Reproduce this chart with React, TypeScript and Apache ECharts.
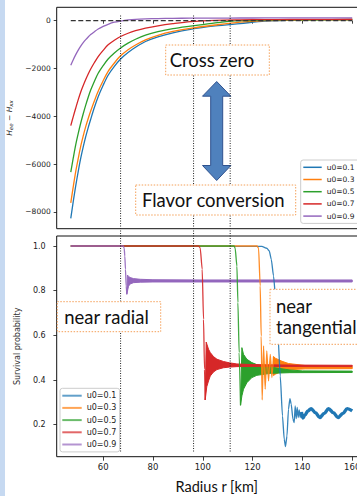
import React, { useEffect, useRef } from 'react';
import * as echarts from 'echarts';

const SERIES_NAMES = ['u0=0.1', 'u0=0.3', 'u0=0.5', 'u0=0.7', 'u0=0.9'];
const SERIES_COLORS = ['#1f77b4', '#ff7f0e', '#2ca02c', '#d62728', '#9467bd'];

const X_TICKS = [60, 80, 100, 120, 140, 160];
const TOP_Y_TICKS = [-8000, -6000, -4000, -2000, 0];
const BOTTOM_Y_TICKS = [0.2, 0.4, 0.6, 0.8, 1.0];

// Top panel: H_ee - H_xx versus radius
const R_TOP = [47, 48, 49, 50, 51, 52, 53, 54, 55, 56.5, 58, 60, 62, 64.5, 67, 70, 73, 77, 82, 88, 95, 105, 115, 125, 135, 145, 160];
const H_U01 = [-8270, -7560, -6900, -6300, -5750, -5280, -4850, -4470, -4120, -3620, -3180, -2700, -2280, -1910, -1600, -1330, -1110, -870, -675, -505, -360, -220, -120, -20, 15, 30, 40];
const H_U03 = [-7615, -6940, -6300, -5760, -5250, -4820, -4430, -4090, -3780, -3350, -2950, -2510, -2120, -1770, -1470, -1215, -1015, -800, -610, -450, -320, -180, -60, 5, 20, 30, 40];
const H_U05 = [-6330, -5740, -5180, -4710, -4280, -3890, -3530, -3200, -2900, -2530, -2200, -1880, -1600, -1350, -1140, -940, -775, -605, -460, -335, -230, -90, 0, 20, 30, 40, 50];
const H_U07 = [-4390, -4010, -3650, -3300, -2980, -2710, -2460, -2230, -2020, -1750, -1500, -1240, -1010, -820, -660, -525, -420, -312, -215, -125, -40, 15, 35, 45, 50, 55, 60];
const H_U09 = [-1860, -1630, -1420, -1230, -1060, -915, -790, -680, -580, -460, -350, -240, -150, -65, -15, 30, 58, 76, 88, 97, 105, 110, 112, 114, 115, 115, 115];
const ZERO_LINE = [[47, 0], [160, 0]];

// Bottom panel: survival probability, [r, P] pairs
const P_U09_LINE = [[47, 1.0], [68.1, 1.0], [68.45, 0.99], [68.7, 0.955], [68.96, 0.896], [69.24, 0.821], [69.5, 0.784]];
const P_U09_UP = [[69.5, 0.784], [69.75, 0.87], [70.2, 0.864], [70.8, 0.859], [72.2, 0.854], [74.9, 0.851], [80, 0.849], [100, 0.848], [160, 0.848]];
const P_U09_LO = [[69.5, 0.784], [69.9, 0.805], [70.2, 0.82], [70.8, 0.83], [72.2, 0.836], [74.9, 0.838], [80, 0.839], [100, 0.839], [160, 0.839]];

const P_U07_LINE = [[47, 1.0], [98.3, 1.0], [98.96, 0.992], [99.76, 0.896], [100.3, 0.672], [100.7, 0.448], [100.96, 0.311]];
const P_U07_UP = [[100.96, 0.311], [101.37, 0.57], [102.3, 0.538], [103, 0.523], [104.3, 0.505], [105.7, 0.493], [108.3, 0.483], [110.7, 0.477], [113.7, 0.472], [120, 0.469], [135, 0.467], [160, 0.466]];
const P_U07_LO = [[100.96, 0.311], [101.6, 0.37], [102.3, 0.396], [103, 0.418], [104.3, 0.436], [105.7, 0.447], [108.3, 0.455], [110.7, 0.458], [113.7, 0.46], [120, 0.461], [160, 0.461]];

const P_U05_LINE = [[47, 1.0], [112.6, 1.0], [113.0, 0.99], [113.7, 0.91], [114.1, 0.747], [114.6, 0.523], [115.15, 0.287]];
const P_U05_UP = [[115.15, 0.287], [115.7, 0.545], [116.35, 0.515], [117.7, 0.493], [119.7, 0.478], [121.7, 0.469], [127, 0.458], [135, 0.445], [140, 0.441], [160, 0.44]];
const P_U05_LO = [[115.15, 0.287], [115.7, 0.329], [116.35, 0.359], [117.7, 0.388], [119.7, 0.411], [121.7, 0.421], [127, 0.43], [135, 0.433], [160, 0.434]];

const P_U03_LINE = [[47, 1.0], [121.8, 1.0], [122.4, 0.99], [123.05, 0.821], [123.45, 0.597], [123.85, 0.311], [124.4, 0.553], [125.06, 0.359], [125.7, 0.53], [126.4, 0.396], [127.1, 0.515], [127.75, 0.411], [128.4, 0.505]];
const P_U03_UP = [[128.4, 0.505], [129.1, 0.498], [131.8, 0.484], [134.4, 0.474], [141.1, 0.465], [150, 0.461], [160, 0.46]];
const P_U03_LO = [[128.4, 0.42], [129.1, 0.426], [131.8, 0.44], [134.4, 0.446], [141.1, 0.45], [160, 0.451]];

const P_U01_LINE = [[47, 1.0], [123.7, 0.998], [125.7, 0.99], [126.7, 0.978], [127.5, 0.94], [128.4, 0.866], [129.4, 0.746], [130.2, 0.597], [131.1, 0.418], [132.0, 0.239], [132.7, 0.135], [133.2, 0.102], [133.8, 0.15], [134.4, 0.269], [135.0, 0.317], [135.5, 0.292], [136.2, 0.225], [136.7, 0.209], [137.1, 0.284], [137.5, 0.227], [137.9, 0.277], [138.3, 0.232], [138.7, 0.266], [139.1, 0.232], [139.6, 0.257]];
const P_U01_WAVE = [[139.6, 0.257], [140.2, 0.23], [141.1, 0.245], [142.2, 0.262], [143.5, 0.272], [145.2, 0.254], [147, 0.232], [148.7, 0.25], [150.5, 0.272], [152.4, 0.254], [154.3, 0.232], [156.2, 0.25], [158, 0.272], [160, 0.262]];

// Annotation positions (r in km) of the vertical dotted markers
const VLINE_R = [67, 96.3, 111];

const FONT = 'DejaVu Sans';
const ANN_FONT = 'Lato';

function lineSeries(name: string, color: string, data: number[][], grid: number, width: number, opacity: number, smooth: number, monotone: boolean) {
  const s: any = {
    type: 'line',
    name,
    xAxisIndex: grid,
    yAxisIndex: grid,
    data,
    symbol: 'none',
    showSymbol: false,
    smooth,
    lineStyle: { color, width, opacity },
    itemStyle: { color },
    silent: true,
    z: 2,
  };
  if (monotone) s.smoothMonotone = 'x';
  return s;
}

function bandSeries(name: string, color: string, upper: number[][], lower: number[][]) {
  return {
    type: 'custom',
    name,
    xAxisIndex: 1,
    yAxisIndex: 1,
    data: [upper[0]],
    clip: true,
    silent: true,
    z: 2,
    renderItem: (_params: any, api: any) => {
      const pts = upper.map((p) => api.coord(p)).concat(lower.slice().reverse().map((p) => api.coord(p)));
      return {
        type: 'polygon',
        shape: { points: pts },
        style: { fill: color, stroke: color, lineWidth: 1 },
      };
    },
  };
}

function buildOption() {
  const topH = [H_U01, H_U03, H_U05, H_U07, H_U09];
  const series: any[] = [];
  topH.forEach((h, i) => {
    series.push(lineSeries(SERIES_NAMES[i], SERIES_COLORS[i], R_TOP.map((r, j) => [r, h[j]]), 0, 1.3, 1, 0.3, false));
  });
  series.push({
    type: 'line',
    name: 'zero',
    xAxisIndex: 0,
    yAxisIndex: 0,
    data: ZERO_LINE,
    symbol: 'none',
    lineStyle: { color: '#333', width: 1.3, type: [5, 2.5] },
    silent: true,
    z: 3,
  });

  const bottom = [
    { line: P_U01_LINE, up: null, lo: null },
    { line: P_U03_LINE, up: P_U03_UP, lo: P_U03_LO },
    { line: P_U05_LINE, up: P_U05_UP, lo: P_U05_LO },
    { line: P_U07_LINE, up: P_U07_UP, lo: P_U07_LO },
    { line: P_U09_LINE, up: P_U09_UP, lo: P_U09_LO },
  ];
  bottom.forEach((b, i) => {
    series.push(lineSeries(SERIES_NAMES[i], SERIES_COLORS[i], b.line, 1, 1.3, 0.9, 0.2, true));
    if (i === 0) {
      series.push(lineSeries('wave ' + SERIES_NAMES[i], SERIES_COLORS[i], P_U01_WAVE, 1, 3.4, 1, 0.35, true));
    } else if (b.up && b.lo) {
      series.push(bandSeries('band ' + SERIES_NAMES[i], SERIES_COLORS[i], b.up, b.lo));
    }
  });

  const axisCommon = {
    type: 'value',
    splitLine: { show: false },
    axisLine: { show: false },
  };

  return {
    animation: false,
    backgroundColor: '#fff',
    textStyle: { fontFamily: FONT },
    grid: [
      { left: 56.7, top: 7.3, right: -9.3, bottom: 267.3, show: true, borderColor: '#111', borderWidth: 1, backgroundColor: 'transparent', containLabel: false, outerBoundsMode: 'none' },
      { left: 56.7, top: 236, right: -9.3, bottom: 39.3, show: true, borderColor: '#111', borderWidth: 1, backgroundColor: 'transparent', containLabel: false, outerBoundsMode: 'none' },
    ],
    xAxis: [
      {
        ...axisCommon, gridIndex: 0, min: 41.35, max: 165.65,
        axisTick: { show: true, inside: false, length: 3, customValues: X_TICKS, lineStyle: { color: '#111', width: 0.8 } },
        axisLabel: { show: false },
      },
      {
        ...axisCommon, gridIndex: 1, min: 41.35, max: 165.65,
        axisTick: { show: true, inside: false, length: 4, customValues: X_TICKS, lineStyle: { color: '#111', width: 0.8 } },
        axisLabel: { show: true, customValues: X_TICKS, fontSize: 8.5, color: '#222', margin: 6, fontFamily: FONT },
      },
    ],
    yAxis: [
      {
        ...axisCommon, gridIndex: 0, min: -8699, max: 560,
        name: '{i|H}{s|ee}{m| \u2212 }{i|H}{s|xx}',
        nameLocation: 'middle',
        nameRotate: 90,
        nameGap: 34,
        nameTextStyle: {
          color: '#222',
          rich: {
            i: { fontFamily: FONT, fontStyle: 'italic', fontSize: 7.5, lineHeight: 9, color: '#222' },
            s: { fontFamily: FONT, fontStyle: 'italic', fontSize: 5.5, lineHeight: 4, verticalAlign: 'bottom', color: '#222' },
            m: { fontFamily: FONT, fontSize: 7.5, lineHeight: 9, color: '#222' },
          },
        },
        axisTick: { show: true, inside: false, length: 3, customValues: TOP_Y_TICKS, lineStyle: { color: '#111', width: 0.8 } },
        axisLabel: {
          show: true, customValues: TOP_Y_TICKS, fontSize: 7.5, color: '#222', margin: 6, fontFamily: FONT,
          formatter: (v: number) => (v < 0 ? '\u2212' + Math.abs(v) : String(v)),
        },
      },
      {
        ...axisCommon, gridIndex: 1, min: 0.0568, max: 1.0448,
        name: 'Survival probability',
        nameLocation: 'middle',
        nameRotate: 90,
        nameGap: 17,
        nameTextStyle: { color: '#333', fontFamily: FONT, fontSize: 8, lineHeight: 9.5 },
        axisTick: { show: true, inside: false, length: 3.3, customValues: BOTTOM_Y_TICKS, lineStyle: { color: '#111', width: 0.8 } },
        axisLabel: {
          show: true, customValues: BOTTOM_Y_TICKS, fontSize: 8, color: '#222', margin: 11, fontFamily: FONT,
          formatter: (v: number) => v.toFixed(1),
        },
      },
    ],
    legend: [
      {
        orient: 'vertical', left: 300.7, top: 160, icon: 'rect', itemWidth: 18.4, itemHeight: 1.5, itemGap: 2.2,
        padding: [2.3, 40, 2.3, 2.6], backgroundColor: 'rgba(255,255,255,0.85)', borderColor: '#ccc', borderWidth: 1, borderRadius: 2.5,
        textStyle: { fontFamily: FONT, fontSize: 7.5, color: '#222', lineHeight: 10 },
        selectedMode: false,
        data: SERIES_NAMES.map((n, i) => ({ name: n, itemStyle: { color: SERIES_COLORS[i] } })),
        z: 20,
      },
      {
        orient: 'vertical', left: 60, top: 388.3, icon: 'rect', itemWidth: 19.4, itemHeight: 2, itemGap: 2.2,
        padding: [2.4, 3.4, 2.4, 2.3], backgroundColor: 'rgba(255,255,255,0.85)', borderColor: '#ccc', borderWidth: 1, borderRadius: 2.5,
        textStyle: { fontFamily: FONT, fontSize: 8, color: '#222', lineHeight: 10 },
        selectedMode: false,
        data: SERIES_NAMES.map((n, i) => ({ name: n, itemStyle: { color: SERIES_COLORS[i], opacity: 0.7 } })),
        z: 20,
      },
    ],
    series,
  };
}

function buildGraphics(vx: number[]) {
  const els: any[] = [];
  els.push({ type: 'rect', shape: { x: 0, y: 0, width: 5, height: 496 }, style: { fill: '#c6d9f1' }, z: -1, silent: true });

  const cx = 216.7;
  els.push({
    type: 'polygon', z: 80, silent: true,
    shape: {
      points: [
        [cx, 81.5], [cx + 14.2, 96.2], [cx + 6, 96.2], [cx + 6, 165.5], [cx + 14.2, 165.5],
        [cx, 180.5], [cx - 14.2, 165.5], [cx - 6, 165.5], [cx - 6, 96.2], [cx - 14.2, 96.2],
      ],
    },
    style: { fill: '#4f81bd', stroke: '#2f528f', lineWidth: 1 },
  });

  vx.forEach((x) => {
    els.push({
      type: 'line', z: 90, silent: true,
      shape: { x1: x, y1: 15.5, x2: x, y2: 452 },
      style: { stroke: '#222', lineWidth: 1, lineDash: [1, 1.5] },
    });
  });

  const box = (x: number, y: number, w: number, h: number) => ({
    type: 'rect', z: 100, silent: true,
    shape: { x, y, width: w, height: h },
    style: { fill: '#fff', stroke: '#f4a15a', lineWidth: 1, lineDash: [1.5, 1.5] },
  });
  const ann = (text: string, x: number, y: number, align: string) => ({
    type: 'text', z: 101, silent: true, x, y,
    style: { text, fill: '#111', fontFamily: ANN_FONT, fontSize: 18.5, lineHeight: 21.7, textAlign: align, textVerticalAlign: 'middle' },
  });
  els.push(box(165.7, 45, 103.6, 30));
  els.push(ann('Cross zero', 212, 60, 'center'));
  els.push(box(135.7, 185, 160, 30));
  els.push(ann('Flavor conversion', 213.3, 200, 'center'));
  els.push(box(57.3, 301.7, 103.4, 30));
  els.push(ann('near radial', 106.5, 316.7, 'center'));
  els.push(box(270, 289.3, 100, 55));
  els.push(ann('near\ntangential', 276, 316.5, 'left'));

  els.push({
    type: 'text', z: 50, silent: true, x: 216.7, y: 486.5,
    style: { text: 'Radius r [km]', fill: '#111', fontFamily: ANN_FONT, fontSize: 14.5, textAlign: 'center', textVerticalAlign: 'middle' },
  });
  return els;
}

export default function App() {
  const ref = useRef<HTMLDivElement>(null);
  useEffect(() => {
    if (!ref.current) return;
    const chart = echarts.init(ref.current, null, { renderer: 'svg', width: 357, height: 496 });
    chart.setOption(buildOption() as any);
    const vx = VLINE_R.map((r) => {
      const p = chart.convertToPixel({ gridIndex: 0 } as any, [r, 0]) as any;
      return Array.isArray(p) ? p[0] : p;
    });
    chart.setOption({ graphic: buildGraphics(vx) } as any);
    return () => chart.dispose();
  }, []);
  return <div ref={ref} style={{ position: 'fixed', left: 0, top: 0, width: 357, height: 496, background: '#fff' }} />;
}
